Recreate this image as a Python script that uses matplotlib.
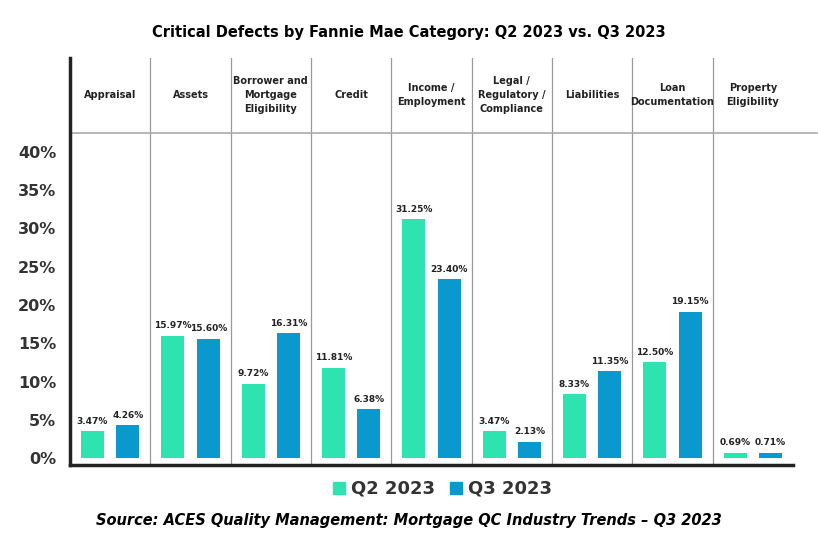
import matplotlib
matplotlib.use("Agg")
import matplotlib.pyplot as plt
from matplotlib.patches import Rectangle

categories = ["Appraisal", "Assets", "Borrower and\nMortgage\nEligibility", "Credit",
              "Income /\nEmployment", "Legal /\nRegulatory /\nCompliance", "Liabilities",
              "Loan\nDocumentation", "Property\nEligibility"]
q2_2023 = [3.47, 15.97, 9.72, 11.81, 31.25, 3.47, 8.33, 12.50, 0.69]
q3_2023 = [4.26, 15.60, 16.31, 6.38, 23.40, 2.13, 11.35, 19.15, 0.71]
y_ticks = [0, 5, 10, 15, 20, 25, 30, 35, 40]

GREEN = "#2DE3B0"
BLUE = "#0A99CF"

W, H = 818, 536
fig = plt.figure(figsize=(W / 100, H / 100), dpi=100)
# axes placed in pixel terms: left 70, right 793, top 58, bottom 465
ax = fig.add_axes([70 / W, 1 - 465 / H, (793 - 70) / W, (465 - 58) / H])
ymin = -7 / 7.65
ymax = 40 + 94 / 7.65
ax.set_xlim(0, 9)
ax.set_ylim(ymin, ymax)

bw, off = 0.29, 0.22
for i, (a, b) in enumerate(zip(q2_2023, q3_2023)):
    c = i + 0.5
    ax.bar(c - off, a, bw, color=GREEN, zorder=2)
    ax.bar(c + off, b, bw, color=BLUE, zorder=2)
    ax.text(c - off, a + 0.7, f"{a:.2f}%", ha="center", va="bottom",
            fontsize=6.5, fontweight="bold", color="#222222")
    ax.text(c + off, b + 0.7, f"{b:.2f}%", ha="center", va="bottom",
            fontsize=6.5, fontweight="bold", color="#222222")
    ax.text(c, 47.4, categories[i], ha="center", va="center", fontsize=7,
            fontweight="bold", color="#222222", linespacing=1.5)
    if i > 0:
        ax.axvline(i, color="#999999", lw=0.9, zorder=1)

header_y = 40 + 19 / 7.65
ax.plot([0, 9.3], [header_y, header_y], color="#AAAAAA", lw=1.2, clip_on=False)

for spine in ("top", "right"):
    ax.spines[spine].set_visible(False)
ax.spines["left"].set_linewidth(2.5)
ax.spines["left"].set_color("#222222")
ax.spines["bottom"].set_linewidth(2.5)
ax.spines["bottom"].set_color("#222222")
ax.set_xticks([])
ax.set_yticks(y_ticks)
ax.set_yticklabels([f"{t}%" for t in y_ticks], fontsize=11.5, fontweight="bold",
                   color="#333333")
ax.tick_params(axis="y", length=0, pad=10)

fig.text(0.5, 1 - 32 / H, "Critical Defects by Fannie Mae Category: Q2 2023 vs. Q3 2023",
         ha="center", va="center", fontsize=10.5, fontweight="bold")

# legend
ly = 1 - 488 / H
fig.patches.append(Rectangle((333 / W, ly - 6 / H), 12 / W, 12 / H, color=GREEN,
                             transform=fig.transFigure, figure=fig))
fig.text(351 / W, ly, "Q2 2023", va="center", fontsize=13, fontweight="bold",
         color="#333333")
fig.patches.append(Rectangle((450 / W, ly - 6 / H), 12 / W, 12 / H, color=BLUE,
                             transform=fig.transFigure, figure=fig))
fig.text(468 / W, ly, "Q3 2023", va="center", fontsize=13, fontweight="bold",
         color="#333333")

fig.text(0.5, 1 - 520 / H,
         "Source: ACES Quality Management: Mortgage QC Industry Trends \u2013 Q3 2023",
         ha="center", va="center", fontsize=10.5, fontweight="bold", style="italic")

fig.savefig("out.png", dpi=100, facecolor="white")
